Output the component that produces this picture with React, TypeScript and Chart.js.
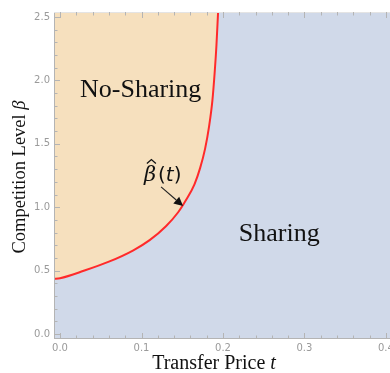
import React, { useEffect, useRef } from "react";
import { Chart, registerables } from "chart.js";

Chart.register(...registerables);

// Boundary curve beta-hat(t) separating the two regions
const tValues = [-0.008, 0, 0.03, 0.06, 0.09, 0.11, 0.13, 0.145, 0.155, 0.165, 0.172, 0.178, 0.183, 0.187, 0.19, 0.192, 0.194];
const betaValues = [0.435, 0.44, 0.5, 0.57, 0.66, 0.74, 0.85, 0.96, 1.06, 1.18, 1.31, 1.46, 1.64, 1.84, 2.08, 2.28, 2.54];

const xTickValues = [0, 0.1, 0.2, 0.3, 0.4];
const xTickLabels = ["0.0", "0.1", "0.2", "0.3", "0.4"];
const yTickValues = [0, 0.5, 1, 1.5, 2, 2.5];
const yTickLabels = ["0.0", "0.5", "1.0", "1.5", "2.0", "2.5"];

const regionLabels = [
  { text: "No-Sharing", t: 0.099, beta: 1.92 },
  { text: "Sharing", t: 0.269, beta: 0.79 },
];

const curveLabel = { t: 0.126, beta: 1.25 };
const arrowFrom = { t: 0.124, beta: 1.16 };
const arrowTo = { t: 0.151, beta: 1.01 };

const X_MIN = -0.0074;
const X_MAX = 0.405;
const Y_MIN = -0.04;
const Y_MAX = 2.54;

const SHARING_COLOR = "#d0d9e9";
const NOSHARING_COLOR = "#f6e0be";
const CURVE_COLOR = "#ff2a2a";
const TICK_COLOR = "#b4b4b4";
const LABEL_COLOR = "#9a9a9a";
const SERIF = "'Liberation Serif', 'Times New Roman', serif";

const framePlugin = {
  id: "frameAndText",
  beforeDraw(chart: any) {
    const { ctx, chartArea } = chart;
    ctx.save();
    ctx.fillStyle = SHARING_COLOR;
    ctx.fillRect(chartArea.left, chartArea.top, chartArea.right - chartArea.left, chartArea.bottom - chartArea.top);
    ctx.restore();
  },
  afterDraw(chart: any) {
    const { ctx, chartArea } = chart;
    const xs = chart.scales.x;
    const ys = chart.scales.y;
    const { left, right, top, bottom } = chartArea;

    ctx.save();
    // frame
    ctx.strokeStyle = TICK_COLOR;
    ctx.lineWidth = 1;
    ctx.beginPath();
    ctx.moveTo(left + 0.5, top);
    ctx.lineTo(left + 0.5, bottom);
    ctx.moveTo(left, bottom - 0.5);
    ctx.lineTo(right, bottom - 0.5);
    ctx.stroke();
    ctx.strokeStyle = "#e4e4e4";
    ctx.beginPath();
    ctx.moveTo(left, top + 0.5);
    ctx.lineTo(right, top + 0.5);
    ctx.stroke();

    // inward ticks
    ctx.strokeStyle = TICK_COLOR;
    ctx.beginPath();
    for (let i = 0; i <= 20; i++) {
      const v = i * 0.02;
      const major = i % 5 === 0;
      const len = major ? 6 : 3.5;
      const px = Math.round(xs.getPixelForValue(v)) + 0.5;
      ctx.moveTo(px, bottom);
      ctx.lineTo(px, bottom - len);
      ctx.moveTo(px, top);
      ctx.lineTo(px, top + len);
    }
    for (let i = 0; i <= 25; i++) {
      const v = i * 0.1;
      const major = i % 5 === 0;
      const len = major ? 6 : 3.5;
      const py = Math.round(ys.getPixelForValue(v)) + 0.5;
      ctx.moveTo(left, py);
      ctx.lineTo(left + len, py);
    }
    ctx.stroke();

    // tick labels
    ctx.fillStyle = LABEL_COLOR;
    ctx.font = "10px 'DejaVu Sans', sans-serif";
    ctx.textAlign = "center";
    ctx.textBaseline = "middle";
    xTickValues.forEach((v, i) => {
      ctx.fillText(xTickLabels[i], xs.getPixelForValue(v), bottom + 9);
    });
    ctx.textAlign = "right";
    yTickValues.forEach((v, i) => {
      ctx.fillText(yTickLabels[i], left - 4, ys.getPixelForValue(v));
    });

    // region labels
    ctx.fillStyle = "#111";
    ctx.font = `26px ${SERIF}`;
    ctx.textAlign = "center";
    ctx.textBaseline = "middle";
    regionLabels.forEach((r) => {
      ctx.fillText(r.text, xs.getPixelForValue(r.t), ys.getPixelForValue(r.beta));
    });

    // curve label: beta-hat(t)
    const cx = xs.getPixelForValue(curveLabel.t);
    const cy = ys.getPixelForValue(curveLabel.beta);
    ctx.textAlign = "left";
    ctx.textBaseline = "middle";
    ctx.font = `italic 21px 'DejaVu Serif', serif`;
    const w1 = ctx.measureText("\u03b2").width;
    ctx.font = `20px 'DejaVu Sans', sans-serif`;
    const w2a = ctx.measureText("(").width;
    ctx.font = `italic 20px 'DejaVu Sans', sans-serif`;
    const w2b = ctx.measureText("t").width;
    ctx.font = `20px 'DejaVu Sans', sans-serif`;
    const w2c = ctx.measureText(")").width;
    const total = w1 + w2a + w2b + w2c + 2;
    let x0 = cx - total / 2;
    ctx.font = `italic 21px 'DejaVu Serif', serif`;
    ctx.fillText("\u03b2", x0, cy);
    // hat over beta
    ctx.strokeStyle = "#111";
    ctx.lineWidth = 1.3;
    ctx.beginPath();
    ctx.moveTo(x0 + 3, cy - 12);
    ctx.lineTo(x0 + 7.5, cy - 16);
    ctx.lineTo(x0 + 12, cy - 12);
    ctx.stroke();
    x0 += w1 + 2;
    ctx.font = `20px 'DejaVu Sans', sans-serif`;
    ctx.fillText("(", x0, cy);
    x0 += w2a;
    ctx.font = `italic 20px 'DejaVu Sans', sans-serif`;
    ctx.fillText("t", x0, cy);
    x0 += w2b;
    ctx.font = `20px 'DejaVu Sans', sans-serif`;
    ctx.fillText(")", x0, cy);

    // arrow pointing at the curve
    const ax0 = xs.getPixelForValue(arrowFrom.t);
    const ay0 = ys.getPixelForValue(arrowFrom.beta);
    const ax1 = xs.getPixelForValue(arrowTo.t);
    const ay1 = ys.getPixelForValue(arrowTo.beta);
    const ang = Math.atan2(ay1 - ay0, ax1 - ax0);
    const hl = 9;
    const hw = 4.5;
    const bx = ax1 - hl * Math.cos(ang);
    const by = ay1 - hl * Math.sin(ang);
    ctx.strokeStyle = "#222";
    ctx.lineWidth = 1.1;
    ctx.beginPath();
    ctx.moveTo(ax0, ay0);
    ctx.lineTo(bx, by);
    ctx.stroke();
    ctx.fillStyle = "#111";
    ctx.beginPath();
    ctx.moveTo(ax1, ay1);
    ctx.lineTo(bx + hw * Math.sin(ang), by - hw * Math.cos(ang));
    ctx.lineTo(bx - hw * Math.sin(ang), by + hw * Math.cos(ang));
    ctx.closePath();
    ctx.fill();

    // axis titles with italic variables
    const drawMixed = (parts: { s: string; italic: boolean }[], size: number, x: number, y: number) => {
      let w = 0;
      parts.forEach((p) => {
        ctx.font = `${p.italic ? "italic " : ""}${size}px ${SERIF}`;
        w += ctx.measureText(p.s).width;
      });
      let px = x - w / 2;
      ctx.textAlign = "left";
      ctx.textBaseline = "middle";
      parts.forEach((p) => {
        ctx.font = `${p.italic ? "italic " : ""}${size}px ${SERIF}`;
        ctx.fillText(p.s, px, y);
        px += ctx.measureText(p.s).width;
      });
    };
    ctx.fillStyle = "#111";
    drawMixed(
      [
        { s: "Transfer Price ", italic: false },
        { s: "t", italic: true },
      ],
      20,
      214,
      bottom + 25
    );
    ctx.save();
    ctx.translate(20, 177);
    ctx.rotate(-Math.PI / 2);
    drawMixed(
      [
        { s: "Competition Level ", italic: false },
        { s: "\u03b2", italic: true },
      ],
      18.5,
      0,
      0
    );
    ctx.restore();
    ctx.restore();
  },
};

export default function App() {
  const canvasRef = useRef<HTMLCanvasElement | null>(null);

  useEffect(() => {
    if (!canvasRef.current) return;
    const chart = new Chart(canvasRef.current, {
      type: "line",
      data: {
        datasets: [
          {
            label: "beta-hat",
            data: tValues.map((t, i) => ({ x: t, y: betaValues[i] })),
            borderColor: CURVE_COLOR,
            borderWidth: 2,
            backgroundColor: NOSHARING_COLOR,
            fill: "end",
            pointRadius: 0,
            cubicInterpolationMode: "monotone",
          },
        ],
      },
      options: {
        animation: false,
        responsive: false,
        maintainAspectRatio: false,
        layout: { padding: { left: 54, top: 12, right: 0, bottom: 34 } },
        plugins: { legend: { display: false }, tooltip: { enabled: false } },
        scales: {
          x: { type: "linear", min: X_MIN, max: X_MAX, display: false },
          y: { type: "linear", min: Y_MIN, max: Y_MAX, display: false },
        },
      },
      plugins: [framePlugin],
    } as any);
    return () => chart.destroy();
  }, []);

  return (
    <div style={{ position: "fixed", left: 0, top: 0, width: 390, height: 373, background: "#fff" }}>
      <canvas ref={canvasRef} width={390} height={373} style={{ width: 390, height: 373 }} />
    </div>
  );
}
